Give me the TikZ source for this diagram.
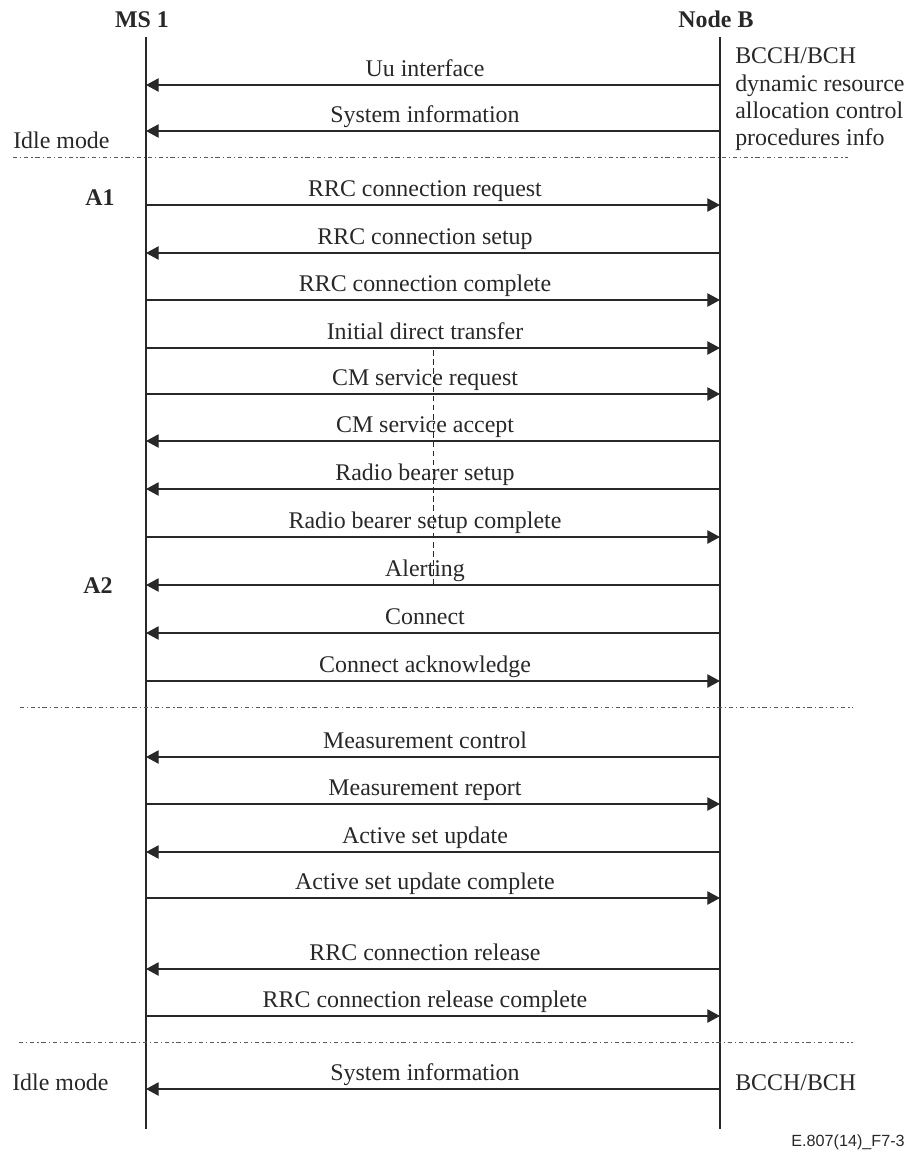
\documentclass[tikz,border=0pt]{standalone}
\usepackage{fontspec}
\setmainfont{Liberation Serif}
\newfontfamily\figfont{Liberation Sans}
\usetikzlibrary{arrows.meta,positioning}
\definecolor{seqgray}{RGB}{40,40,40}

\begin{document}
\begin{tikzpicture}[x=0.025cm, y=-0.025cm, >={Triangle[length=9pt,width=9.5pt]},
  every node/.style={font=\fontsize{17}{19}\selectfont, text=seqgray},
  lifeline/.style={line width=2pt, seqgray},
  msg/.style={line width=0.9pt, seqgray},
  tonb/.style={->}, toms/.style={<-},
  lab/.style={above=0.2cm, inner sep=0pt, text depth=0pt, xshift=-0.2cm},
  sep/.style={line width=0.6pt, black!65, dash pattern=on 3pt off 2pt on 1pt off 2pt}]
\useasboundingbox (0,0) rectangle (909,1153);
% lifelines
\node[anchor=base, font=\fontsize{17}{19}\selectfont\bfseries] (ms) at (142,27) {MS 1};
\node[anchor=base, font=\fontsize{17}{19}\selectfont\bfseries] (nb) at (716,27) {Node B};
\coordinate (ms-top) at (146,37);  \coordinate (ms-bot) at (146,1129);
\coordinate (nb-top) at (720,37);  \coordinate (nb-bot) at (720,1129);
\draw[lifeline] (ms-top) -- (ms-bot);
\draw[lifeline] (nb-top) -- (nb-bot);
% messages
\foreach \y/\lab/\dir [count=\i] in {
    85/Uu interface/toms, 131/System information/toms,
    205/RRC connection request/tonb, 253/RRC connection setup/toms,
    300/RRC connection complete/tonb, 348/Initial direct transfer/tonb,
    394/CM service request/tonb, 441/CM service accept/toms,
    489/Radio bearer setup/toms, 537/Radio bearer setup complete/tonb,
    585/Alerting/toms, 633/Connect/toms, 681/Connect acknowledge/tonb,
    757/Measurement control/toms, 804/Measurement report/tonb,
    852/Active set update/toms, 898/Active set update complete/tonb,
    969/RRC connection release/toms, 1016/RRC connection release complete/tonb,
    1089/System information/toms}{
  \coordinate (l\i) at (146,\y);
  \coordinate (r\i) at (720,\y);
  \draw[msg,\dir] (l\i) -- node[lab] (t\i) {\lab} (r\i);
}
% separators
\foreach \y/\a/\b [count=\j] in {157/13/848, 707/20/853, 1042/19/853}{
  \coordinate (s\j-a) at (\a,\y);
  \coordinate (s\j-b) at (\b,\y);
  \draw[sep] (s\j-a) -- (s\j-b);
}
\coordinate (v-top) at (433,350);
\coordinate (v-bot) at (433,585);
\draw[line width=0.5pt, seqgray, dash pattern=on 4pt off 2.5pt] (v-top) -- (v-bot);
% side notes
\node[anchor=base west, inner sep=0pt] (idle1) at (13,148) {Idle mode};
\node[anchor=base west, inner sep=0pt] (idle2) at (12,1090) {Idle mode};
\node[anchor=base, font=\fontsize{17}{19}\selectfont\bfseries] (a1) at (100,205) {A1};
\node[anchor=base, font=\fontsize{17}{19}\selectfont\bfseries] (a2) at (98,593) {A2};
\node[anchor=base west, inner sep=0pt] (bcch1) at (735,63) {BCCH/BCH};
\node[anchor=base west, inner sep=0pt] (dyn) at (735,91) {dynamic resource};
\node[anchor=base west, inner sep=0pt] (alloc) at (735,118) {allocation control};
\node[anchor=base west, inner sep=0pt] (proc) at (735,145) {procedures info};
\node[anchor=base west, inner sep=0pt] (bcch2) at (735,1090) {BCCH/BCH};
\node[anchor=base east, inner sep=0pt, font=\figfont\fontsize{11.5}{13}\selectfont] (fig) at (905,1146) {E.807(14)\_F7-3};
\end{tikzpicture}
\end{document}
